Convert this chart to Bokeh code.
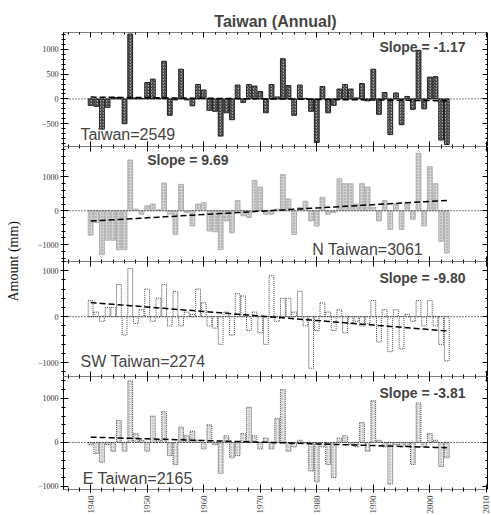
import math
import numpy as np
from bokeh.plotting import figure
from bokeh.models import (Range1d, LinearAxis, FixedTicker, Span, Label, Div, Spacer,
                          CustomLabelingPolicy)
from bokeh.layouts import row, column
from bokeh.embed import file_html
from bokeh.resources import INLINE

years = list(range(1940, 2004))
taiwan = [-130, -150, -610, -170, 30, 30, -500, 1310, 20, 10, 330, 400, 10, 760, -330, -20,
          600, -20, -140, 290, 180, -230, -250, -750, -280, -420, 280, -70, 290, 260, 150, -280,
          290, 40, 810, 270, -330, 280, 10, -250, -880, 250, -280, -130, 200, 290, 200, 20,
          310, -40, 600, -310, 130, -720, 120, -520, 50, -210, 980, -200, 440, 450, -830, -920]
n_taiwan = [-720, -350, -1300, -870, -870, -1150, -1150, 1500, 50, -100, 150, 200, 30, 820, -100, -700,
            780, -50, -450, 200, 240, -600, -620, -1150, -300, -650, 300, -150, -200, 900, 700, -100,
            -100, 50, 1070, 350, -700, 100, 280, -300, -450, 400, -100, -50, 950, 800, 800, 200,
            800, 700, 100, -300, 300, -550, 200, -550, 250, -250, 1700, -450, 1300, 800, -900, -1250]
sw_taiwan = [350, 100, -100, 200, 200, 700, -400, 1050, -150, 150, 600, -100, 400, 700, -200, 550,
             -200, 100, 50, 600, 300, -200, -250, -600, 100, -400, 500, 450, -300, 100, -350, -600,
             890, -100, 400, 400, 100, 550, -200, -1120, -300, 300, 100, -300, 150, -350, -150, -100,
             -200, -150, 350, -550, 150, -760, 150, -700, 50, -100, 350, -200, 350, -200, -600, -960]
e_taiwan = [-50, -250, -450, -50, -200, 500, -200, 1400, 200, 50, -200, 600, 50, 700, -300, -500,
            350, 150, 250, 50, -150, 400, -50, -700, 150, -350, -300, 200, 800, 150, -150, 100,
            -150, 550, 1200, -200, -100, 50, -10, -650, -900, -100, -500, -800, 100, 150, -50, -100,
            450, -200, 950, 50, -100, -950, -50, -100, -80, -500, 900, -100, 200, 50, -550, -350]

slopes = [-1.17, 9.69, -9.80, -3.81]
region_names = ["Taiwan", "N Taiwan", "SW Taiwan", "E Taiwan"]
region_means = [2549, 3061, 2274, 2165]
x_ticks = [1940, 1950, 1960, 1970, 1980, 1990, 2000, 2010]
x_minor = list(range(1936, 2011, 2))
y_ticks_top = [-500, 0, 500, 1000]
y_ticks_other = [-1000, 0, 1000]

SERIF = "Liberation Serif"
SANS = "Liberation Sans"

XR = (1935.2, 2010.2)


def no_labels():
    return CustomLabelingPolicy(
        code="for (let i = 0; i < indices.size; i++) { indices.unset(i) } return indices")


def tick_only_axis(ticker, dash=None):
    kw = dict(ticker=ticker, major_tick_in=5, major_tick_out=0,
              minor_tick_in=2, minor_tick_out=0,
              major_label_text_font_size="0px", major_label_standoff=0,
              major_label_policy=no_labels())
    if dash:
        kw["axis_line_dash"] = dash
    return LinearAxis(**kw)


def make_panel(vals, yr, yticks, yminor, frame_h, bar_style, slope, name, mean,
               slope_pos, name_pos, first=False, last=False):
    p = figure(x_range=Range1d(*XR), y_range=Range1d(*yr),
               frame_width=424, frame_height=frame_h,
               x_axis_type=None, y_axis_type=None,
               output_backend="svg", toolbar_location=None,
               min_border_left=35, min_border_right=6,
               min_border_top=(25 if first else 0),
               min_border_bottom=(25 if last else 0),
               outline_line_color=None, background_fill_color="white",
               border_fill_color="white")
    yt = FixedTicker(ticks=yticks, minor_ticks=yminor)
    left = LinearAxis(ticker=yt, major_tick_in=5, major_tick_out=3,
                      minor_tick_in=2, minor_tick_out=2,
                      major_label_text_font=SERIF, major_label_text_font_size="8px",
                      major_label_text_color="#333", major_label_standoff=2)
    p.add_layout(left, "left")
    p.add_layout(tick_only_axis(yt), "right")
    xt = FixedTicker(ticks=x_ticks, minor_ticks=x_minor)
    p.add_layout(tick_only_axis(xt, "1 1"), "above")
    if last:
        bottom = LinearAxis(ticker=xt, major_tick_in=5, major_tick_out=3,
                            minor_tick_in=2, minor_tick_out=2,
                            major_label_text_font=SERIF, major_label_text_font_size="9px",
                            major_label_orientation=math.pi / 2, major_label_standoff=3,
                            axis_line_dash="1 1")
    else:
        bottom = tick_only_axis(xt, "1 1")
    p.add_layout(bottom, "below")

    p.vbar(x=years, top=vals, bottom=0, width=0.85, **bar_style)
    p.add_layout(Span(location=0, dimension="width", line_color="black",
                      line_dash="1 2", line_width=1))
    mid = float(np.mean(years))
    trend = [slope * (y - mid) for y in years]
    p.line(years, trend, line_color="black", line_dash="6 3", line_width=1.5)

    sx, sy, salign = slope_pos
    p.add_layout(Label(x=sx, y=sy, text=f"Slope = {slope:.2f}", text_font=SANS,
                       text_font_style="bold", text_font_size="14px",
                       text_align=salign, text_baseline="middle"))
    nx, ny, nalign = name_pos
    p.add_layout(Label(x=nx, y=ny, text=f"{name}={mean}", text_font=SANS,
                       text_font_size="16px", text_align=nalign,
                       text_baseline="middle"))
    if first:
        p.title.text = "Taiwan (Annual)"
        p.title.align = "center"
        p.title.text_font = SANS
        p.title.text_font_size = "16px"
        p.title.text_font_style = "bold"
        p.title.standoff = 5
    return p


p1 = make_panel(taiwan, (-960, 1340), y_ticks_top, list(range(-900, 1301, 100)), 114,
                dict(fill_color="#a8a8a8", hatch_pattern="right_diagonal_line",
                     hatch_color="#222222", hatch_scale=3, hatch_weight=1,
                     line_color="#222222", line_width=1),
                slopes[0], region_names[0], region_means[0],
                (2006.3, 1050, "right"), (1938.2, -720, "left"), first=True)
p2 = make_panel(n_taiwan, (-1500, 1900), y_ticks_other, list(range(-1400, 1801, 200)), 115,
                dict(fill_color="#d4d4d4", hatch_pattern="dot", hatch_color="#8a8a8a",
                     hatch_scale=3, line_color="#b0b0b0", line_width=1),
                slopes[1], region_names[1], region_means[1],
                (1950.0, 1500, "left"), (1998.8, -1150, "right"))
p3 = make_panel(sw_taiwan, (-1300, 1200), y_ticks_other, list(range(-1200, 1201, 200)), 115,
                dict(fill_color="white", line_color="#444444", line_dash="1 1", line_width=1),
                slopes[2], region_names[2], region_means[2],
                (2006.3, 846, "right"), (1938.2, -977, "left"))
p4 = make_panel(e_taiwan, (-1070, 1500), y_ticks_other, list(range(-1000, 1401, 200)), 113,
                dict(fill_color="#e6e6e6", hatch_pattern="dot", hatch_color="#9a9a9a",
                     hatch_scale=3, line_color="#555555", line_dash="1 1", line_width=1),
                slopes[3], region_names[3], region_means[3],
                (2006.3, 1135, "right"), (1938.6, -817, "left"), last=True)

ylab = Div(text=('<div style="height:498px;width:18px;display:flex;align-items:center;'
                 'justify-content:center;"><span style="writing-mode:vertical-rl;'
                 'transform:rotate(180deg);font-family:\'Liberation Serif\';font-size:14px;'
                 'white-space:nowrap;color:#111;">Amount (mm)</span></div>'),
           width=18, height=498)

layout = column(Spacer(width=483, height=7),
                row(ylab, column(p1, p2, p3, p4, spacing=0), spacing=0),
                spacing=0)

with open("out.html", "w") as f:
    f.write(file_html(layout, INLINE))
